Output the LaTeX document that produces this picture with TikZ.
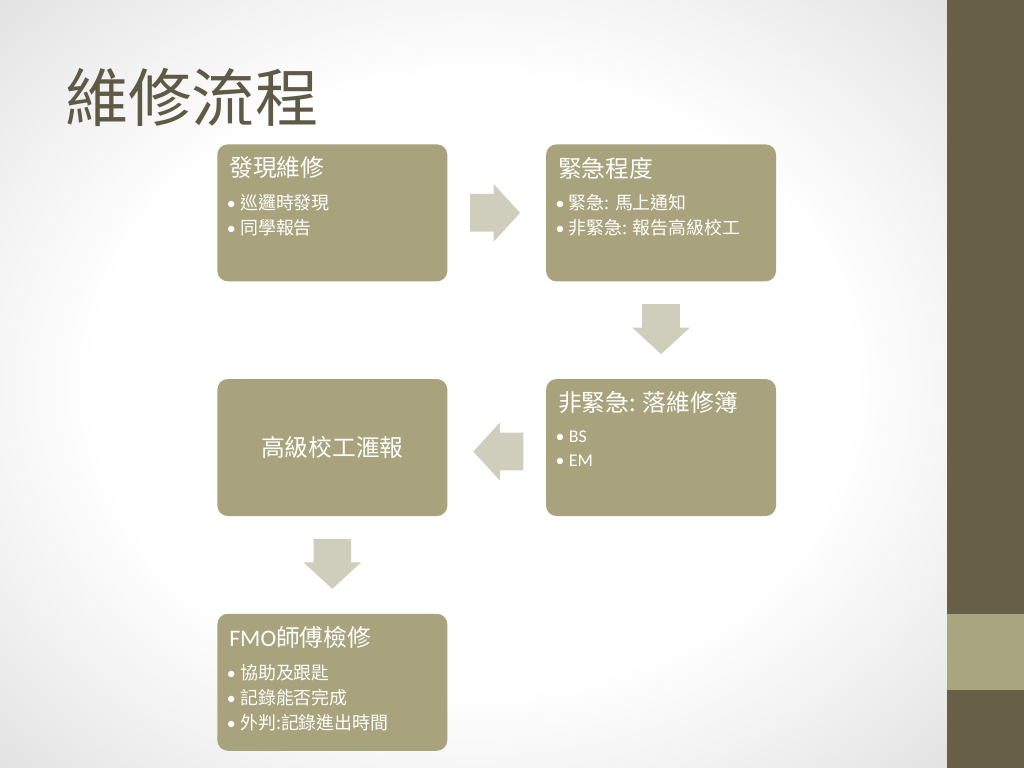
\documentclass[tikz,border=0pt]{standalone}
\usepackage{fontspec}
\setmainfont{Carlito}
\newfontfamily\cjk{Noto Sans CJK TC}
\usepackage{tikz}
\usetikzlibrary{shapes.arrows, positioning, calc}
\definecolor{fmBox}{HTML}{A8A37C}
\definecolor{fmArrow}{HTML}{CFCEBD}
\definecolor{fmBar}{HTML}{675F48}
\definecolor{fmBand}{HTML}{A9A57F}
\definecolor{fmTitle}{HTML}{5F5A45}
\pgfdeclareradialshading{fmVignette}{\pgfpoint{0bp}{0bp}}{color(0bp)=(white); color(20bp)=(white); color(30bp)=(black!7); color(40bp)=(black!15); color(50bp)=(black!15)}
\newcommand{\fmbullet}{{\rmfamily\textbullet}\hspace{2.5pt}}

\begin{document}
\begin{tikzpicture}[
  box/.style={rectangle, rounded corners=6pt, fill=fmBox, minimum width=4.6cm, minimum height=2.74cm,
              inner sep=0pt},
  head/.style={anchor=west, inner sep=0pt, text=white, font=\fontsize{13.5}{16}\selectfont\cjk},
  item/.style={anchor=west, inner sep=0pt, text=white, font=\fontsize{10.2}{12}\selectfont\cjk},
  blk/.style={single arrow, fill=fmArrow, inner xsep=0pt, inner ysep=0.37cm, minimum height=1cm,
              single arrow head extend=0.2cm, single arrow tip angle=95, anchor=tail}
]
\useasboundingbox (0,0) rectangle (20.48,-15.36);
% background and side bar
\shade[shading=fmVignette] (0,0) rectangle (18.94,-15.36);
\fill[fmBar] (18.94,0) rectangle (20.48,-15.36);
\fill[fmBand] (18.94,-12.28) rectangle (20.48,-13.8);

\node[anchor=west, inner sep=0pt, text=fmTitle, font=\fontsize{36}{40}\selectfont\cjk] (title) at (1.3,-1.94) {維修流程};

\node[box, anchor=north west] (find) at (4.34,-2.88) {};
\node[box, right=1.96cm of find] (urgency) {};
\node[box, below=1.94cm of urgency] (book) {};
\node[box, left=1.96cm of book] (report) {};
\node[box, below=1.94cm of report] (fmo) {};
\node[head, anchor=center] at (report) {高級校工滙報};

% box texts
\node[head] (find-h) at ([xshift=0.24cm, yshift=-0.48cm]find.north west) {發現維修};
\foreach \txt [count=\i] in {巡邏時發現, 同學報告}
  \node[item] (find-\i) at ([xshift=0.19cm, yshift={-1.18cm-(\i-1)*0.5cm}]find.north west) {\fmbullet\txt};
\node[head] (urgency-h) at ([xshift=0.24cm, yshift=-0.48cm]urgency.north west) {緊急程度};
\foreach \txt [count=\i] in {緊急: 馬上通知, 非緊急: 報告高級校工}
  \node[item] (urgency-\i) at ([xshift=0.19cm, yshift={-1.18cm-(\i-1)*0.5cm}]urgency.north west) {\fmbullet\txt};
\node[head] (book-h) at ([xshift=0.24cm, yshift=-0.48cm]book.north west) {非緊急: 落維修簿};
\foreach \txt [count=\i] in {BS, EM}
  \node[item, font=\fontsize{10.2}{12}\selectfont] (book-\i) at ([xshift=0.19cm, yshift={-1.16cm-(\i-1)*0.48cm}]book.north west) {\fmbullet\txt};
\node[head] (fmo-h) at ([xshift=0.24cm, yshift=-0.48cm]fmo.north west) {{\rmfamily FMO}師傅檢修};
\foreach \txt [count=\i] in {協助及跟匙, 記錄能否完成, 外判:記錄進出時間}
  \node[item] (fmo-\i) at ([xshift=0.19cm, yshift={-1.18cm-(\i-1)*0.5cm}]fmo.north west) {\fmbullet\txt};

% block arrows
\node[blk] (a1) at ([xshift=0.44cm]find.east) {};
\node[blk, rotate=-90] (a2) at ([yshift=-0.44cm]urgency.south) {};
\node[blk, rotate=180] (a3) at ([xshift=-0.44cm, yshift=-0.08cm]book.west) {};
\node[blk, rotate=-90] (a4) at ([yshift=-0.44cm]report.south) {};
\end{tikzpicture}
\end{document}
